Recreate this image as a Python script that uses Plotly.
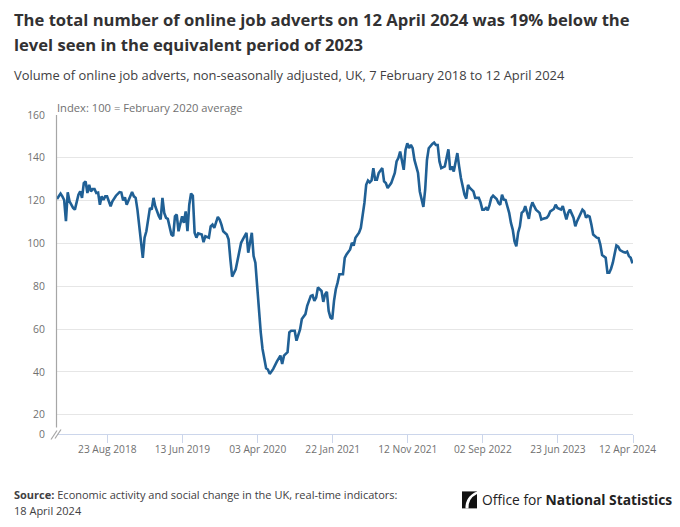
import plotly.graph_objects as go
import pandas as pd

# ---- data (weeks since 7 Feb 2018, index value) ----
weeks = [0, 2, 3, 4, 5, 6, 7, 9, 10, 12, 13, 14, 15, 16, 17, 18, 19, 20, 21, 22, 23, 24, 25, 26, 27, 28,
         30, 31, 33, 35, 36, 37, 38, 39, 41, 42, 43, 44, 45, 46, 47, 48, 49, 50, 52, 53, 54, 55, 57, 58,
         59, 60, 61, 62, 64, 65, 66, 67, 68, 70, 71, 72, 73, 74, 75, 76, 77, 78, 79, 81, 82, 83, 85, 86,
         87, 88, 90, 91, 92, 93, 95, 96, 97, 98, 100, 101, 103, 104, 106, 107, 108, 109, 110, 111, 112,
         113, 114, 115, 116, 117, 118, 119, 120, 121, 123, 124, 125, 126, 127, 128, 129, 130, 131, 133,
         134, 136, 137, 139, 140, 142, 143, 144, 145, 146, 148, 149, 150, 151, 152, 153, 154, 155, 156,
         157, 158, 160, 161, 162, 164, 165, 166, 167, 169, 170, 171, 172, 173, 174, 175, 176, 177, 178,
         179, 180, 182, 183, 184, 185, 187, 189, 190, 191, 192, 194, 195, 196, 197, 198, 199, 200, 202,
         203, 205, 206, 207, 208, 210, 211, 212, 213, 214, 215, 217, 218, 219, 220, 221, 222, 223, 224,
         225, 226, 228, 229, 230, 231, 233, 234, 236, 237, 238, 239, 240, 241, 242, 243, 244, 246, 247,
         248, 249, 250, 251, 253, 254, 255, 256, 257, 258, 259, 260, 261, 262, 263, 264, 265, 266, 267,
         268, 270, 271, 272, 274, 275, 276, 278, 279, 280, 282, 283, 284, 285, 286, 287, 289, 290, 291,
         293, 294, 295, 296, 297, 298, 299, 300, 302, 303, 304, 305, 307, 308, 309, 310, 311, 312, 313,
         314, 315, 317, 318, 319, 320, 321, 322]
values = [120.8, 123.3, 122, 120.3, 110.4, 123.9, 119.7, 116.6, 115.8, 122.8, 124.3, 121.3, 128.2, 129,
          123.6, 127.4, 124.3, 125.4, 125.4, 123.6, 123.8, 118.1, 122, 120.3, 122, 122,
          117.4, 119.7, 122.3, 124, 123.8, 120.1, 121.5, 118.1, 122, 124, 122, 121.3, 115.8, 108, 98.7,
          93.3, 102.7, 105.7, 116.6, 115.8, 121.3, 117.3, 112.7, 111.2,
          121.3, 114.3, 112, 111.5, 104.2, 103.4, 112.7, 113.5, 105.7, 112.7, 109.6, 115, 105.7, 118.1,
          123.3, 122.3, 105, 102.7, 104.7, 104.2, 100.6, 103.4, 102.7, 108,
          108.8, 107.3, 112.4, 111.2, 108.8, 105.7, 104.2, 101.9, 92.6, 84.5, 87.9, 92.6, 100.3, 101.9,
          105, 95.7, 101, 105, 94.1, 91, 80.1,
          67.8, 58.5, 50.7, 45.3, 41.7, 41.1, 39.1, 40.2, 41.4, 44.8, 46, 47.6, 43.7, 47.6, 48.4, 49.2,
          58.5, 59.2, 59.2,
          54.6, 59.8, 64.7, 67, 70.9, 75.5, 75.8, 73.2, 74.7, 79.4, 77.8, 72.7, 76.3, 77.4, 68.5, 65.4,
          64.7, 73.2, 78.6,
          81.7, 85.6, 85.6, 93.3, 94.9, 97.2, 100.3, 99, 102.7, 105, 107.3, 112.7, 118.9, 127.4, 129.4,
          128.5, 129.4, 135.2, 129.8,
          129.8, 132.9, 135.2, 129, 128.2, 125.9, 128.2, 132.9, 138.3, 139.9, 142.9, 134.4, 143.7, 146.8,
          144.5, 146, 144.5, 139, 132.9,
          124.3, 117.1, 125.1, 139, 144.5, 146.5, 147.1, 146, 146, 138.3, 135.2, 136, 140.6, 144, 134.4,
          136, 133.6, 137.5, 142.2,
          136, 130.6, 122.8, 120.9, 127.4, 125.9, 124.3, 121.3, 121.3, 119.2, 115.8, 115.8, 116.6, 115.5,
          117.9, 121.3, 122.3, 120.8, 118.9,
          118.1, 122.8, 120.5, 120.3, 114.3, 109.6, 106.5, 101, 98.7, 105, 108, 114.3, 115, 117.4, 114.3,
          111.5, 116.6, 119.2, 117.4,
          115.8, 114.3, 111.2, 111.5, 112, 113, 115, 116.1, 118.1, 116.6, 115.8, 117.4, 114.8, 111.2,
          114.3, 115.8, 112, 108, 110.4,
          114.3, 115.8, 115, 112, 113, 112.5, 108.8, 104.2, 102.7, 102.5, 99.5, 94.6, 93.3, 86.3, 86.3,
          88.2, 91, 95.7, 99.1,
          98.5, 96.9, 96, 95.7, 96.2, 94.1, 93.3, 90.7]

start_date = "2018-02-07"
end_date = "2024-04-12"
tick_dates = ["2018-08-23", "2019-06-13", "2020-04-03", "2021-01-22",
              "2021-11-12", "2022-09-02", "2023-06-23", "2024-04-12"]
tick_labels = ["23 Aug 2018", "13 Jun 2019", "03 Apr 2020", "22 Jan 2021",
               "12 Nov 2021", "02 Sep 2022", "23 Jun 2023", "12 Apr 2024"]
y_tickvals = [11, 20, 40, 60, 80, 100, 120, 140, 160]
y_ticktext = ["0", "20", "40", "60", "80", "100", "120", "140", "160"]

title1 = "The total number of online job adverts on 12 April 2024 was 19% below the"
title2 = "level seen in the equivalent period of 2023"
subtitle = "Volume of online job adverts, non-seasonally adjusted, UK, 7 February 2018 to 12 April 2024"
unit_label = "Index: 100 = February 2020 average"
source1 = "<b>Source:</b> Economic activity and social change in the UK, real-time indicators:"
source2 = "18 April 2024"

start = pd.Timestamp(start_date)
dates = [start + pd.Timedelta(weeks=w) for w in weeks]

# ---- layout geometry ----
W, H = 680, 527
L, R, T, B = 57, 633, 115, 434.5


def px(x):
    return (x - L) / (R - L)


def py(y):
    return (B - y) / (B - T)


FONT = "Open Sans"
GREY = "#707070"
DARK = "#323132"

fig = go.Figure()
fig.add_trace(go.Scatter(x=dates, y=values, mode="lines",
                         line=dict(color="#206095", width=2.6),
                         hoverinfo="skip", showlegend=False))

# last tick label drawn separately (shifted left like the reference)
ticktext_axis = tick_labels[:-1] + [""]

fig.update_layout(
    width=W, height=H, autosize=False,
    margin=dict(l=L, r=W - R, t=T, b=H - B, pad=0),
    paper_bgcolor="white", plot_bgcolor="white",
    font=dict(family=FONT, color=GREY, size=10),
    showlegend=False,
    xaxis=dict(type="date", range=[start_date, end_date],
               tickvals=tick_dates, ticktext=ticktext_axis,
               showgrid=False, zeroline=False,
               showline=True, linecolor="#ccd6eb", linewidth=1,
               ticks="outside", ticklen=8, tickcolor="#ccd6eb", tickwidth=1,
               ticklabelstandoff=-2,
               tickfont=dict(family=FONT, size=10.2, color=GREY),
               fixedrange=True),
    yaxis=dict(range=[11, 160], tickvals=y_tickvals, ticktext=y_ticktext,
               showgrid=True, gridcolor="#e6e6e6", gridwidth=1,
               zeroline=False, showline=False, ticks="",
               ticklabelstandoff=11,
               tickfont=dict(family=FONT, size=10.4, color=GREY),
               fixedrange=True),
)

ann = []
ann.append(dict(text="<b>" + title1 + "</b>", x=px(12), y=py(19)))
ann.append(dict(text="<b>" + title2 + "</b>", x=px(12), y=py(44)))
for a in ann:
    a.update(font=dict(family=FONT, size=16.6, color=DARK))
ann.append(dict(text=subtitle, x=px(12), y=py(75),
                font=dict(family=FONT, size=12.9, color="#414042")))
ann.append(dict(text=unit_label, x=px(55), y=py(107),
                font=dict(family=FONT, size=11.2, color=GREY)))
ann.append(dict(text=source1, x=px(12), y=py(495),
                font=dict(family=FONT, size=11, color="#414042")))
ann.append(dict(text=source2, x=px(12), y=py(511),
                font=dict(family=FONT, size=11, color="#414042")))
ann.append(dict(text="Office for <b>National Statistics</b>", x=px(480), y=py(500),
                font=dict(family=FONT, size=13.8, color="#222222")))
for a in ann:
    a.update(xref="paper", yref="paper", xanchor="left", yanchor="middle",
             showarrow=False, align="left")
ann.append(dict(text=tick_labels[-1], xref="paper", yref="paper",
                x=px(658), y=py(450), xanchor="right", yanchor="middle",
                showarrow=False, font=dict(family=FONT, size=10.2, color=GREY)))
fig.update_layout(annotations=ann)

shapes = [
    # y axis line (broken at bottom)
    dict(type="line", xref="paper", yref="paper", x0=px(56.5), x1=px(56.5),
         y0=py(115), y1=py(428), line=dict(color="#a6a6a6", width=1.2)),
    # axis break marks
    dict(type="line", xref="paper", yref="paper", x0=px(51), x1=px(57),
         y0=py(440), y1=py(431), line=dict(color="#a6a6a6", width=1.2)),
    dict(type="line", xref="paper", yref="paper", x0=px(55), x1=px(61),
         y0=py(439), y1=py(430), line=dict(color="#a6a6a6", width=1.2)),
    # ONS logo mark
    dict(type="rect", xref="paper", yref="paper", x0=px(462), x1=px(477),
         y0=py(492), y1=py(509), fillcolor="#111111", line=dict(width=0)),
    dict(type="path", xref="paper", yref="paper",
         path=(f"M {px(465.5)} {py(509)} Q {px(465)} {py(497)} {px(477)} {py(492)} "
               f"L {px(477)} {py(494.5)} Q {px(468)} {py(499)} {px(468.5)} {py(509)} Z"),
         fillcolor="white", line=dict(width=0)),
]
fig.update_layout(shapes=shapes)

fig.write_html("out.html")
